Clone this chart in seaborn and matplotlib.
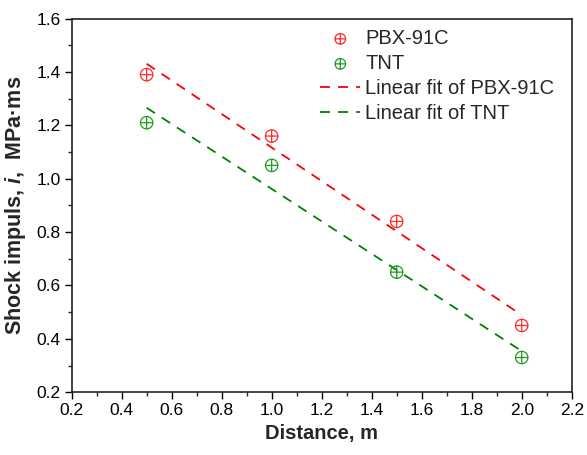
import numpy as np
import pandas as pd
import matplotlib
matplotlib.use("Agg")
import matplotlib.pyplot as plt
import seaborn as sns
from matplotlib.path import Path
from matplotlib.ticker import MultipleLocator

# measured shock impulse (MPa·ms) vs distance (m)
distance = [0.5, 1.0, 1.5, 2.0]
pbx_impulse = [1.39, 1.16, 0.84, 0.45]
tnt_impulse = [1.21, 1.05, 0.65, 0.33]

series_names = ["PBX-91C", "TNT"]
series_colors = ["#ff0000", "#008000"]
marker_colors = ["#ff2a2a", "#229a22"]

df = pd.DataFrame({
    "Distance": distance * 2,
    "Impulse": pbx_impulse + tnt_impulse,
    "Series": [series_names[0]] * 4 + [series_names[1]] * 4,
})

sns.set_theme(style="ticks")
plt.rcParams["font.family"] = ["Liberation Sans", "DejaVu Sans"]
plt.rcParams["mathtext.fontset"] = "custom"
plt.rcParams["mathtext.it"] = "Liberation Sans:italic:bold"
plt.rcParams["mathtext.rm"] = "Liberation Sans:bold"

# circle with a cross inside
circ = Path.unit_circle()
cross = Path([[-1, 0], [1, 0], [0, -1], [0, 1]],
             [Path.MOVETO, Path.LINETO, Path.MOVETO, Path.LINETO])
oplus = Path.make_compound_path(circ, cross)

fig = plt.figure(figsize=(5.87, 4.55), dpi=100)
ax = fig.add_axes([0.122, 0.138, 0.852, 0.821])

for name, mc in zip(series_names, marker_colors):
    sub = df[df["Series"] == name]
    sns.scatterplot(data=sub, x="Distance", y="Impulse", marker=oplus, s=80,
                    facecolors="none", edgecolor=mc, linewidth=0.9,
                    label=name, ax=ax, zorder=3)

# linear fits
xs = np.array([min(distance), max(distance)])
for name, col in zip(series_names, series_colors):
    sub = df[df["Series"] == name]
    k, b = np.polyfit(sub["Distance"], sub["Impulse"], 1)
    sns.lineplot(x=xs, y=k * xs + b, color=col, linewidth=1.3,
                 linestyle=(0, (5.5, 4.5)), label=f"Linear fit of {name}", ax=ax)

ax.set_xlim(0.2, 2.2)
ax.set_ylim(0.2, 1.6)
ax.set_xticks(np.arange(0.2, 2.21, 0.2))
ax.set_xticklabels([f"{v:.1f}" for v in np.arange(0.2, 2.21, 0.2)])
ax.set_yticks(np.arange(0.2, 1.61, 0.2))
ax.set_yticklabels([f"{v:.1f}" for v in np.arange(0.2, 1.61, 0.2)])
ax.xaxis.set_minor_locator(MultipleLocator(0.1))
ax.yaxis.set_minor_locator(MultipleLocator(0.1))
ax.tick_params(which="major", direction="out", length=5, width=1, labelsize=12.5,
               colors="black", top=False, right=False, pad=3)
ax.tick_params(which="minor", direction="out", length=3, width=1,
               top=False, right=False)
for sp in ax.spines.values():
    sp.set_visible(True)
    sp.set_color("#222222")
    sp.set_linewidth(1.2)

ax.set_xlabel("Distance, m", fontsize=14.5, fontweight="bold", labelpad=4)
ax.set_ylabel(r"Shock impuls, $i$,  MPa·ms", fontsize=15.5, fontweight="bold", labelpad=6)

leg = ax.legend(loc="upper left", bbox_to_anchor=(0.497, 0.972), frameon=False,
                fontsize=14.5, handlelength=2.0, handletextpad=0.25,
                labelspacing=0.3, borderaxespad=0, borderpad=0, markerscale=0.85)

fig.savefig("out.png", dpi=100)
